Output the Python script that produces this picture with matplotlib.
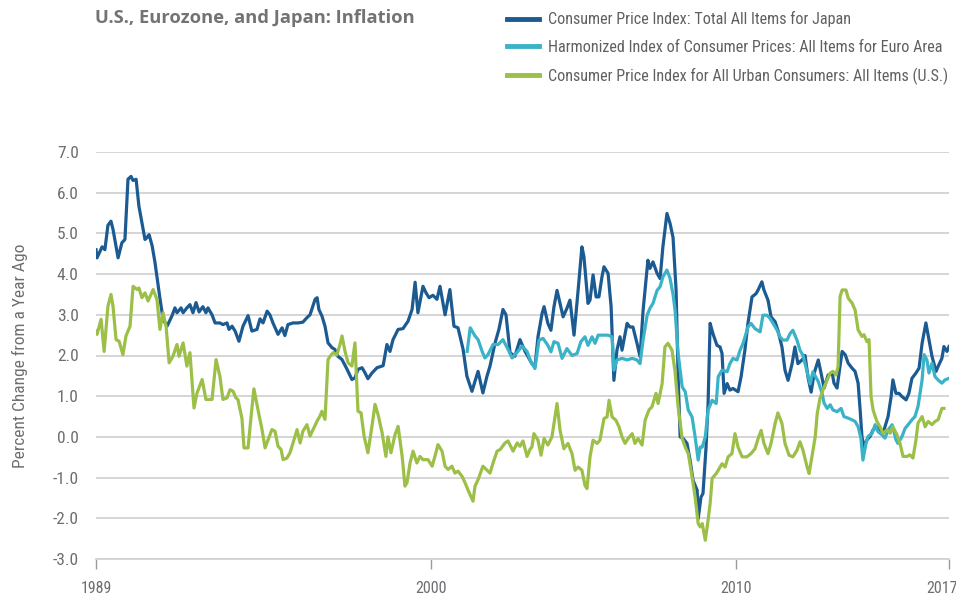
import matplotlib
matplotlib.use("Agg")
import matplotlib.pyplot as plt
from matplotlib import font_manager
import matplotlib.transforms as mtransforms

# ---------------- data (month offsets from Jan 1989, percent change YoY) ----------------
japan_m = [0.0, 0.4, 2.4, 3.5, 4.7, 5.9, 6.7, 8.7, 10.2, 11.4, 12.6, 13.8, 14.6, 15.8, 16.9,
           19.3, 20.1, 20.9, 22.1, 23.2, 25.2, 26.4, 28.0, 29.9, 31.1, 31.9, 33.5, 34.3, 35.8,
           37.0, 38.2, 39.4, 40.6, 42.1, 43.3, 44.1, 45.7, 46.9, 48.8, 50.0, 51.6, 52.4, 53.6,
           54.8, 56.3, 57.9, 59.9, 61.4, 63.4, 64.6, 65.8, 67.4, 68.5, 69.7, 71.7, 73.3, 74.4,
           75.6, 77.6, 79.6, 81.5, 83.1, 84.3, 86.3, 87.1, 87.8, 89.0, 90.2, 91.4, 93.0, 94.1,
           95.3, 96.9, 98.9, 100.8, 102.0, 103.2, 104.8, 106.0, 107.1, 108.7, 110.7, 112.7,
           113.1, 114.6, 115.8, 117.0, 119.0, 120.9, 122.9, 124.5, 125.7, 126.8, 128.8, 130.0,
           131.2, 132.7, 134.3, 135.5, 137.5, 139.4, 141.0, 142.6, 144.6, 146.1, 148.1, 149.3,
           150.5, 152.4, 154.0, 155.2, 157.2, 158.7, 160.3, 161.5, 163.1, 165.0, 167.0, 169.0,
           170.2, 171.7, 172.9, 174.1, 175.7, 176.5, 178.0, 179.2, 180.4, 181.6, 182.8, 184.0,
           185.5, 186.7, 188.3, 189.9, 191.4, 192.2, 193.8, 194.6, 195.8, 197.0, 198.1, 199.3,
           200.1, 201.7, 202.9, 204.0, 205.2, 206.4, 207.2, 209.2, 210.3, 211.5, 213.1, 214.3,
           215.5, 217.4, 218.2, 219.4, 221.0, 222.2, 223.3, 224.9, 226.1, 227.3, 228.5, 229.3,
           230.1, 231.3, 232.8, 234.0, 235.2, 236.8, 237.2, 238.3, 239.1, 240.3, 241.1, 241.9,
           243.0, 244.6, 245.8, 246.6, 247.4, 248.6, 249.7, 250.9, 252.9, 254.1, 255.6, 256.8,
           258.4, 260.0, 260.8, 262.3, 263.1, 264.7, 265.9, 267.5, 268.6, 270.2, 271.4, 272.6,
           274.2, 275.3, 276.5, 278.1, 279.3, 280.5, 281.7, 282.9, 284.5, 285.6, 286.8, 288.4,
           290.0, 290.7, 291.9, 292.7, 293.9, 295.1, 296.3, 297.8, 299.0, 300.2, 301.0, 301.7,
           302.5, 303.7, 304.9, 306.1, 307.6, 308.8, 310.0, 312.0, 313.2, 313.9, 315.1, 316.3,
           317.5, 319.1, 320.2, 321.4, 323.0, 324.2, 325.4, 326.9, 328.1, 329.3, 330.9, 331.7,
           333.2, 334.0, 335.2, 336.0]
japan_v = [4.6, 4.4, 4.67, 4.6, 5.2, 5.3, 5.1, 4.4, 4.77, 4.85, 6.33, 6.4, 6.3, 6.33, 5.67,
           4.85, 4.9, 4.97, 4.7, 4.3, 3.4, 2.9, 2.72, 2.97, 3.17, 3.05, 3.17, 3.05, 3.17,
           3.25, 3.05, 3.3, 3.07, 3.2, 3.05, 3.17, 3.0, 2.8, 2.8, 2.76, 2.8, 2.64, 2.72,
           2.6, 2.35, 2.72, 2.98, 2.6, 2.64, 2.9, 2.8, 3.09, 3.0, 2.8, 2.52, 2.68, 2.49,
           2.76, 2.8, 2.8, 2.82, 2.93, 3.0, 3.38, 3.42, 3.13, 2.97, 2.72, 2.31, 2.19, 2.15,
           1.98, 1.9, 1.66, 1.41, 1.45, 1.66, 1.7, 1.57, 1.43, 1.57, 1.7, 1.74,
           1.75, 2.27, 2.1, 2.39, 2.64, 2.66, 2.84, 3.13, 3.8, 3.05, 3.7, 3.54,
           3.42, 3.48, 3.38, 3.7, 3.0, 3.62, 2.72, 2.68, 2.15, 1.49, 1.12, 1.37,
           1.61, 1.08, 1.49, 1.74, 2.31, 2.64, 3.13, 3.0, 2.07, 1.98, 2.39, 2.1,
           1.97, 1.8, 1.72, 2.46, 3.03, 3.2, 2.79, 2.62, 3.2, 3.6, 3.28, 2.95,
           3.16, 3.36, 2.5, 3.6, 4.67, 4.43, 3.28, 3.36, 3.98, 3.44, 3.44, 3.93,
           4.18, 4.02, 3.2, 1.39, 2.13, 2.46, 2.13, 2.79, 2.7, 2.7, 2.3, 1.97,
           3.11, 4.34, 4.14, 4.3, 4.02, 3.89, 4.67, 5.49, 5.25, 4.9, 3.61, 1.48,
           0.0, -0.04, -0.16, -0.57, -1.07, -1.31, -2.01, -1.48, -1.39, -0.25, 0.82, 2.79,
           2.54, 2.25, 2.21, 2.05, 1.07, 1.31, 1.15, 1.19, 1.11, 1.48, 2.13, 2.79,
           3.44, 3.52, 3.61, 3.81, 3.61, 3.36, 2.95, 2.83, 2.62, 2.21, 1.64, 1.39,
           1.8, 2.21, 1.8, 1.89, 2.0, 1.45, 1.1, 1.57, 1.89, 1.57, 1.2, 1.52,
           1.57, 1.32, 1.2, 1.57, 2.1, 2.02, 1.81, 1.69, 1.61, 1.32, 0.66, 0.01,
           -0.24, -0.07, 0.01, 0.17, 0.25, 0.17, 0.09, 0.5, 0.99, 1.4, 1.07, 1.07,
           0.99, 0.91, 1.07, 1.44, 1.57, 1.69, 2.3, 2.8, 2.39, 1.98, 1.61, 1.73,
           1.93, 2.22, 2.1, 2.22]

euro_m = [146.2, 147.4, 149.3, 150.5, 152.1, 153.2, 154.4, 156.4, 158.4, 160.3, 162.3, 163.9,
          165.8, 167.8, 169.8, 171.0, 172.9, 174.5, 176.1, 178.0, 179.2, 180.4, 182.0, 183.6,
          185.5, 187.5, 189.5, 191.0, 192.6, 193.8, 195.4, 196.6, 197.8, 199.7, 201.7, 203.3,
          204.0, 205.2, 207.2, 209.2, 211.2, 213.1, 214.3, 215.5, 217.1, 218.2, 219.4, 221.0,
          222.2, 223.3, 224.9, 226.1, 227.3, 228.1, 229.3, 230.9, 232.1, 233.3, 234.8, 236.0,
          237.2, 238.0, 238.8, 240.0, 241.1, 242.7, 244.3, 245.1, 246.6, 248.6, 249.7, 250.9,
          252.5, 253.7, 254.9, 256.8, 258.0, 259.6, 261.6, 262.7, 264.3, 265.5, 266.7, 268.3,
          269.4, 270.6, 272.2, 273.4, 274.5, 276.1, 277.3, 278.5, 280.1, 281.3, 282.4, 284.5,
          286.0, 286.8, 288.0, 289.2, 290.3, 291.9, 293.5, 294.6, 296.3, 297.8, 299.0, 300.2,
          301.3, 302.1, 303.3, 304.1, 305.7, 306.9, 308.0, 309.6, 310.8, 312.0, 313.6, 315.1,
          315.9, 317.5, 318.7, 319.9, 321.4, 322.6, 323.8, 325.4, 326.2, 327.3, 328.1, 329.3,
          330.5, 331.7, 333.2, 334.4, 336.0]
euro_v = [2.1, 2.68, 2.48, 2.39, 2.1, 1.94, 2.02, 2.27, 2.27, 2.39, 2.15, 1.94,
          2.07, 2.23, 2.1, 1.89, 1.68, 2.38, 2.42, 2.25, 2.09, 2.34, 2.3, 1.93,
          2.17, 2.0, 2.05, 2.34, 2.46, 2.25, 2.46, 2.3, 2.5, 2.5, 2.5, 2.46,
          1.64, 1.89, 1.93, 1.89, 1.93, 1.89, 1.8, 2.38, 2.99, 3.16, 3.28, 3.6,
          3.69, 3.93, 4.1, 3.9, 3.5, 3.11, 2.05, 1.23, 1.11, 0.66, 0.49, 0.0,
          -0.57, -0.25, -0.25, 0.0, 0.66, 0.9, 0.82, 1.48, 1.64, 1.6, 1.8, 1.93,
          1.89, 2.13, 2.3, 2.7, 2.79, 2.66, 2.58, 2.99, 2.99, 2.91, 2.79, 2.62,
          2.46, 2.38, 2.38, 2.54, 2.62, 2.38, 2.13, 2.0, 1.6, 1.3, 1.6, 1.36,
          1.07, 0.83, 0.7, 0.79, 0.66, 0.62, 0.7, 0.5, 0.46, 0.42, 0.38, 0.25,
          -0.03, -0.57, -0.16, 0.01, 0.09, 0.3, 0.13, 0.05, -0.03, 0.17, 0.3, -0.07,
          -0.16, 0.01, 0.21, 0.3, 0.42, 0.5, 0.75, 1.4, 2.02, 1.89, 1.57, 1.81,
          1.48, 1.4, 1.32, 1.4, 1.44]

us_m = [0.0, 0.4, 2.0, 3.2, 4.7, 5.9, 6.7, 7.9, 9.1, 10.6, 11.8, 13.4, 14.6, 16.2, 16.9,
        18.1, 19.3, 20.5, 22.5, 24.0, 25.2, 26.4, 27.6, 28.8, 30.3, 31.9, 32.7, 34.3, 35.8,
        37.0, 38.6, 39.8, 41.8, 43.3, 45.7, 47.3, 48.8, 50.0, 51.6, 52.8, 54.0, 55.1, 55.9,
        57.5, 58.3, 59.9, 61.1, 62.2, 63.8, 65.4, 66.6, 67.8, 69.3, 70.5, 71.7, 72.9, 73.7,
        75.2, 76.4, 77.6, 79.2, 80.4, 81.5, 83.1, 84.3, 85.5, 87.1, 88.2, 89.0, 90.2, 91.4,
        92.2, 93.4, 94.9, 96.1, 96.9, 98.1, 99.3, 100.8, 102.0, 103.2, 104.4, 105.6, 107.1,
        108.7, 109.9, 111.1, 112.7, 114.2, 115.0, 116.2, 117.8, 119.0, 120.6, 121.7, 122.5,
        123.7, 124.9, 126.4, 127.6, 128.8, 130.8, 132.4, 133.5, 134.7, 136.3, 137.5, 138.7,
        140.2, 141.4, 142.6, 144.2, 145.4, 146.5, 148.5, 149.3, 150.5, 152.4, 153.7, 155.2,
        156.4, 158.0, 159.2, 161.1, 162.3, 164.3, 165.9, 167.0, 168.2, 169.8, 171.0, 171.7,
        172.5, 174.1, 175.3, 176.5, 178.0, 179.6, 181.6, 182.8, 184.3, 185.9, 187.5, 188.7,
        189.9, 191.4, 192.6, 193.4, 194.6, 195.8, 197.4, 198.5, 200.1, 201.3, 202.1, 203.3,
        204.8, 206.0, 207.2, 208.4, 209.6, 211.2, 212.3, 213.5, 215.1, 216.3, 217.8, 219.0,
        220.6, 221.4, 223.0, 224.1, 225.3, 226.9, 228.1, 229.3, 230.9, 232.1, 233.3, 234.8,
        236.0, 237.2, 238.0, 238.8, 240.0, 241.1, 241.9, 242.7, 244.3, 245.1, 246.6, 247.8,
        249.0, 250.5, 251.7, 252.9, 254.5, 256.4, 258.0, 259.6, 260.8, 262.0, 263.1, 264.7,
        265.9, 267.5, 268.6, 270.2, 271.4, 273.0, 274.5, 276.1, 277.3, 278.5, 280.1, 280.9,
        282.0, 283.3, 284.1, 285.2, 286.4, 288.0, 289.2, 290.3, 291.5, 292.3, 293.1, 293.9,
        295.4, 296.3, 297.8, 299.0, 300.2, 301.7, 302.5, 303.7, 304.5, 305.3, 306.1, 307.6,
        308.8, 310.0, 311.6, 312.8, 313.9, 315.5, 316.7, 317.9, 319.5, 320.6, 321.8, 323.0,
        323.8, 325.4, 326.6, 327.8, 329.3, 330.5, 331.7, 333.2, 334.0]
us_v = [2.6, 2.52, 2.89, 2.1, 3.21, 3.5, 3.21, 2.39, 2.35, 2.02, 2.48, 2.72, 3.7, 3.62, 3.66,
        3.42, 3.54, 3.34, 3.62, 3.38, 2.64, 3.05, 2.72, 1.82, 1.98, 2.27, 1.98, 2.31, 1.74,
        2.07, 0.71, 1.08, 1.41, 0.92, 0.92, 1.9, 1.49, 0.92, 0.96, 1.16, 1.12, 0.96, 0.92,
        0.45, -0.27, -0.27, 0.51, 1.18, 0.67, 0.18, -0.27, -0.07, 0.18, 0.14, -0.23, -0.31, -0.56,
        -0.52, -0.39, -0.15, 0.18, -0.15, 0.14, 0.3, 0.02, 0.18, 0.39, 0.51, 0.63, 0.43, 1.9,
        1.98, 2.07, 2.02, 2.27, 2.48, 2.1, 1.82, 1.74, 2.31, 0.63, 0.59, 0.02, -0.39,
        0.26, 0.8, 0.55, 0.1, -0.48, 0.0, -0.39, 0.06, 0.26, -0.48, -1.21, -1.13,
        -0.64, -0.35, -0.64, -0.48, -0.56, -0.56, -0.72, -0.48, -0.19, -0.35, -0.72, -0.8,
        -0.72, -0.89, -0.84, -0.97, -1.13, -1.3, -1.58, -1.21, -1.05, -0.72, -0.8, -0.89,
        -0.64, -0.35, -0.31, -0.15, -0.1, -0.35, -0.15, -0.23, -0.1, -0.48, -0.3, -0.25,
        0.08, -0.08, -0.45, -0.04, -0.2, 0.0, 0.82, 0.16, -0.29, -0.16, -0.41, -0.82,
        -0.74, -0.82, -1.19, -1.27, -0.49, -0.08, -0.16, -0.08, 0.45, 0.49, 0.9, 0.49,
        0.41, 0.25, 0.0, -0.16, -0.04, 0.08, -0.16, -0.04, -0.2, 0.41, 0.66, 0.74,
        1.07, 0.82, 1.31, 2.21, 2.3, 2.13, 1.6, 0.74, -0.04, -0.25, -0.41, -0.98,
        -1.48, -2.13, -2.21, -2.13, -2.54, -2.05, -1.64, -1.02, -0.9, -0.82, -0.66, -0.74,
        -0.49, -0.41, 0.08, -0.25, -0.49, -0.49, -0.41, -0.29, -0.04, 0.16, -0.16, -0.41,
        -0.16, 0.33, 0.59, 0.33, -0.16, -0.45, -0.49, -0.33, -0.12, -0.33, -0.74, -0.9,
        -0.49, 0.0, 0.58, 0.95, 1.16, 1.4, 1.57, 1.61, 1.52, 1.73, 3.45, 3.61,
        3.61, 3.41, 3.29, 3.12, 2.63, 2.47, 2.51, 2.34, 2.39, 0.99, 0.66, 0.38,
        0.25, 0.09, 0.17, 0.09, 0.25, 0.05, -0.16, -0.48, -0.48, -0.44, -0.52, -0.07,
        0.34, 0.5, 0.25, 0.38, 0.3, 0.38, 0.42, 0.7, 0.7]

labels = ["Consumer Price Index: Total All Items for Japan",
          "Harmonized Index of Consumer Prices: All Items for Euro Area",
          "Consumer Price Index for All Urban Consumers: All Items (U.S.)"]
y_ticks = [7.0, 6.0, 5.0, 4.0, 3.0, 2.0, 1.0, 0.0, -1.0, -2.0, -3.0]
x_ticks = [1989, 2000, 2010, 2017]
title = "U.S., Eurozone, and Japan: Inflation"
ylabel = "Percent Change from a Year Ago"

# ---------------- fonts ----------------
available = {f.name for f in font_manager.fontManager.ttflist}
narrow = None
for cand in ["Liberation Sans Narrow", "Roboto Condensed", "Open Sans Condensed", "DejaVu Sans Condensed"]:
    if cand in available:
        narrow = cand
        break
if narrow is None:
    narrow = "DejaVu Sans"
bold_font = "Open Sans" if "Open Sans" in available else "DejaVu Sans"

c_dark = "#1c5a92"
c_teal = "#3ab2c8"
c_green = "#9cbf48"
c_text = "#6d6e71"
c_grid = "#d2d2d2"

# ---------------- figure ----------------
fig = plt.figure(figsize=(9.56, 6.05), dpi=100)
ax = fig.add_axes([96 / 956, 1 - 559 / 605, (949 - 96) / 956, (559 - 152) / 605])

def to_year(ms):
    return [1989 + m / 12.0 for m in ms]

ax.plot(to_year(japan_m), japan_v, color=c_dark, lw=2.3, label=labels[0], solid_joinstyle="round", zorder=3)
ax.plot(to_year(euro_m), euro_v, color=c_teal, lw=2.3, label=labels[1], solid_joinstyle="round", zorder=4)
ax.plot(to_year(us_m), us_v, color=c_green, lw=2.3, label=labels[2], solid_joinstyle="round", zorder=5)

ax.set_xlim(1989, 2017)
ax.set_ylim(-3, 7)
ax.set_yticks(y_ticks)
ax.set_yticklabels([f"{t:.1f}" for t in y_ticks], fontfamily=narrow, fontsize=12.5, color=c_text)
ax.set_xticks(x_ticks)
ax.set_xticklabels([str(t) for t in x_ticks], fontfamily=narrow, fontsize=11.5, color=c_text)
ax.tick_params(axis="y", length=0, pad=12.5)
ax.tick_params(axis="x", length=7, width=1, color="#9a9a9a", direction="out", pad=9)
for s in ["top", "right", "left"]:
    ax.spines[s].set_visible(False)
ax.spines["bottom"].set_color(c_grid)
ax.spines["bottom"].set_linewidth(1.3)
ax.grid(axis="y", color=c_grid, lw=1.3)
ax.set_axisbelow(True)

# keep the last year label inside the canvas (as in the reference)
xlabels = ax.get_xticklabels()
xlabels[-1].set_transform(xlabels[-1].get_transform() +
                          mtransforms.ScaledTranslation(-7 / 100, 0, fig.dpi_scale_trans))

ax.set_ylabel(ylabel, fontfamily=narrow, fontsize=12.5, color=c_text, labelpad=18)

fig.text(95 / 956, 1 - 18 / 605, title, fontfamily=bold_font, fontweight="bold",
         fontsize=13.2, color="#737373", ha="left", va="center")

leg = fig.legend(loc="upper left", bbox_to_anchor=(504 / 956, 1 - 8 / 605), frameon=False,
                 prop={"family": narrow, "size": 11.6}, handlelength=1.95, handletextpad=0.55,
                 labelspacing=0.78, borderpad=0.2, borderaxespad=0)
for t in leg.get_texts():
    t.set_color("#5f6062")
for h in leg.get_lines():
    h.set_linewidth(3.5)

fig.savefig("out.png", dpi=100)
